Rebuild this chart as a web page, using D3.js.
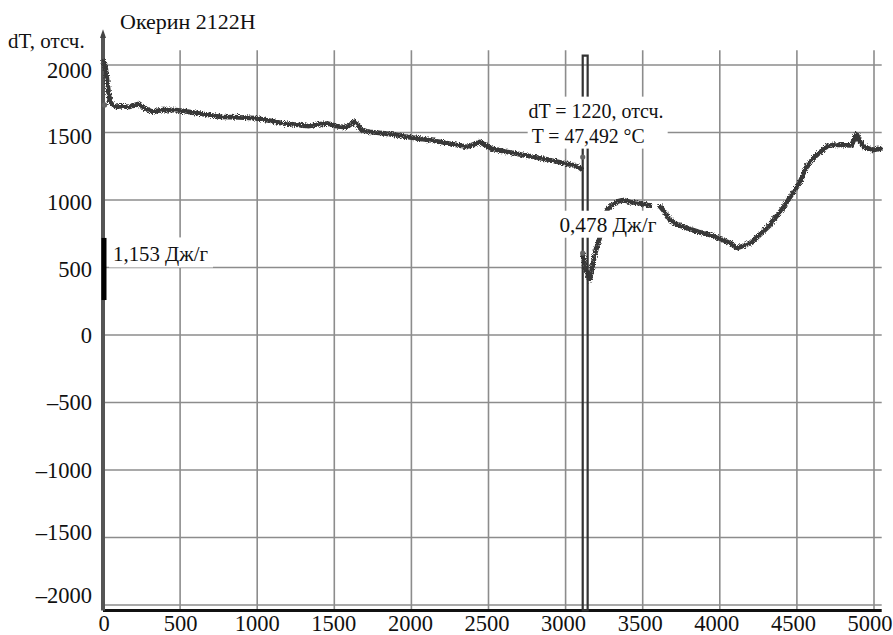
<!DOCTYPE html>
<html>
<head>
<meta charset="utf-8">
<script src="https://cdn.jsdelivr.net/npm/d3@7"></script>
<style>
  html, body { margin: 0; padding: 0; background: #fff; }
  svg { display: block; }
</style>
</head>
<body>
<svg id="chart" width="893" height="635"></svg>
<script>
// DSC trace: dT (counts) against time, sample "Окерин 2122Н"
const titleText = "Окерин 2122Н";
const yAxisTitle = "dT, отсч.";
const xTicks = [0, 500, 1000, 1500, 2000, 2500, 3000, 3500, 4000, 4500, 5000];
const yTicks = [-2000, -1500, -1000, -500, 0, 500, 1000, 1500, 2000];

// signal before the cursor event
const preX = [0, 15, 30, 45, 60, 80, 120, 170, 227, 270, 318, 380, 447, 520, 596, 680, 771, 880, 985,
  1070, 1160, 1250, 1329, 1400, 1458, 1520, 1580, 1633, 1680, 1730, 1850, 1970, 2080, 2184, 2280,
  2359, 2443, 2520, 2618, 2720, 2832, 2940, 3046, 3090, 3111];
const preY = [2040, 2000, 1850, 1730, 1705, 1690, 1695, 1690, 1710, 1680, 1655, 1665, 1668, 1660, 1645,
  1630, 1615, 1612, 1607, 1590, 1570, 1558, 1548, 1560, 1568, 1545, 1540, 1580, 1515, 1505, 1490,
  1467, 1450, 1430, 1410, 1393, 1430, 1380, 1356, 1335, 1311, 1285, 1259, 1240, 1222];

// full-scale excursion at the event
const spikeX = [3111, 3111, 3143, 3143, 3111, 3111];
const spikeY = [1222, -2040, -2040, 2070, 2070, 607];

// signal after the event (null = no record)
const postX = [3111, 3130, 3158, 3190, 3236, 3270, 3301, 3340, 3372, 3420, 3463, 3520, 3560, 3585,
  3605, 3640, 3677, 3730, 3787, 3860, 3936, 4000, 4066, 4112, 4150, 4196, 4258, 4326, 4342, 4400,
  4452, 4517, 4569, 4627, 4699, 4750, 4796, 4854, 4887, 4915, 4939, 4990, 5055];
const postY = [607, 480, 415, 600, 778, 930, 963, 990, 1000, 985, 978, 965, 956, null,
  963, 915, 852, 815, 793, 765, 741, 715, 681, 644, 660, 681, 740, 815, 845, 925,
  1015, 1126, 1259, 1333, 1400, 1410, 1407, 1405, 1489, 1420, 1393, 1370, 1385];

// integrated peak span on the start edge, and cursor points
const peakSpan = [259, 719];
const cursorX = [10, 3111, 3111];
const cursorY = [1704, 1318, 607];

const annotations = [
  { x: 2760, y: 1610, text: "dT = 1220, отсч.", w: 142, h: 27, len: 135 },
  { x: 2780, y: 1425, text: "T = 47,492 °C", w: 140, h: 27, len: 113 },
  { x: 2960, y: 765, text: "0,478 Дж/г", w: 104, h: 27, len: 97 },
  { x: 65, y: 545, text: "1,153 Дж/г", w: 104, h: 30, len: 95 }
];

const FONT = "'Liberation Serif', 'Times New Roman', Times, 'DejaVu Serif', serif";
const svg = d3.select("#chart").attr("font-family", FONT);
const x = d3.scaleLinear().domain([0, 5000]).range([103, 874]);
const y = d3.scaleLinear().domain([-2000, 2000]).range([605, 65]);
// label placement scales (labels sit slightly off the grid in the print)
const xLab = d3.scaleLinear().domain([0, 5000]).range([104, 870]);
const yLab = d3.scaleLinear().domain([-2000, -1000, 0, 2000]).range([595, 470, 335, 70]);

const fmt = v => (v < 0 ? "\u2013" + Math.abs(v) : String(v));

// grainy edge for the recorded traces
const defs = svg.append("defs");
const f = defs.append("filter").attr("id", "grain").attr("x", "-5%").attr("y", "-5%")
  .attr("width", "110%").attr("height", "110%");
f.append("feTurbulence").attr("type", "fractalNoise").attr("baseFrequency", 1.1)
  .attr("numOctaves", 2).attr("seed", 3).attr("result", "n");
f.append("feDisplacementMap").attr("in", "SourceGraphic").attr("in2", "n")
  .attr("scale", 5).attr("xChannelSelector", "R").attr("yChannelSelector", "G");

// grid
const grid = svg.append("g").attr("stroke", "#8c8c8c").attr("stroke-width", 1.6);
grid.selectAll("line.v").data(xTicks.slice(1)).join("line")
  .attr("x1", d => x(d)).attr("x2", d => x(d))
  .attr("y1", y(2110)).attr("y2", y(-2040));
grid.selectAll("line.h").data(yTicks).join("line")
  .attr("x1", x(0)).attr("x2", x(5050))
  .attr("y1", d => y(d)).attr("y2", d => y(d));

// x axis line (bottom) and y axis with arrow
svg.append("line").attr("x1", x(0)).attr("x2", x(5050))
  .attr("y1", y(-2040)).attr("y2", y(-2040))
  .attr("stroke", "#111").attr("stroke-width", 3);
svg.append("line").attr("x1", x(0)).attr("x2", x(0))
  .attr("y1", y(-2040)).attr("y2", y(2225))
  .attr("stroke", "#555").attr("stroke-width", 4);
svg.append("path")
  .attr("d", `M${x(0) - 3},${y(2200)} L${x(0)},${y(2265)} L${x(0) + 3},${y(2200)} Z`)
  .attr("fill", "#444");

// peak span marker
svg.append("line").attr("x1", x(0) + 1).attr("x2", x(0) + 1)
  .attr("y1", y(peakSpan[0])).attr("y2", y(peakSpan[1]))
  .attr("stroke", "#000").attr("stroke-width", 5);

const line = d3.line().defined(d => d[1] !== null).x(d => x(d[0])).y(d => y(d[1]));
const pre = preX.map((v, i) => [v, preY[i]]);
const spike = spikeX.map((v, i) => [v, spikeY[i]]);
const post = postX.map((v, i) => [v, postY[i]]);

const traces = svg.append("g").attr("filter", "url(#grain)");
[pre, post].forEach(s => {
  traces.append("path").datum(s).attr("d", line)
    .attr("fill", "none").attr("stroke", "#383838").attr("stroke-width", 4.8)
    .attr("stroke-linejoin", "round");
});
svg.append("path").datum(spike).attr("d", line)
  .attr("fill", "none").attr("stroke", "#333").attr("stroke-width", 2.2);

svg.append("g").selectAll("circle").data(cursorX).join("circle")
  .attr("cx", d => x(d)).attr("cy", (d, i) => y(cursorY[i]))
  .attr("r", 2.6).attr("fill", "#666");

// annotation labels on white plates
const ann = svg.append("g");
annotations.forEach(a => {
  const tx = x(a.x), ty = y(a.y);
  ann.append("rect").attr("x", tx - 4).attr("y", ty - a.h + 6)
    .attr("width", a.w).attr("height", a.h).attr("fill", "#fff");
  ann.append("text").attr("x", tx).attr("y", ty).attr("fill", "#111")
    .attr("font-size", 20.5).attr("textLength", a.len).attr("lengthAdjust", "spacingAndGlyphs")
    .text(a.text);
});

// tick labels
svg.append("g").selectAll("text").data(xTicks).join("text")
  .attr("x", d => xLab(d)).attr("y", 631).attr("fill", "#111")
  .attr("text-anchor", "middle").attr("font-size", 22.5).text(fmt);
svg.append("g").selectAll("text").data(yTicks).join("text")
  .attr("x", 92).attr("y", d => yLab(d)).attr("dy", "0.35em").attr("fill", "#111")
  .attr("text-anchor", "end").attr("font-size", 22.5).text(fmt);

// titles
svg.append("text").attr("x", 120).attr("y", 29).attr("font-size", 22).attr("fill", "#111").text(titleText);
svg.append("text").attr("x", 8).attr("y", 48).attr("font-size", 21).attr("fill", "#111").text(yAxisTitle);
</script>
</body>
</html>
